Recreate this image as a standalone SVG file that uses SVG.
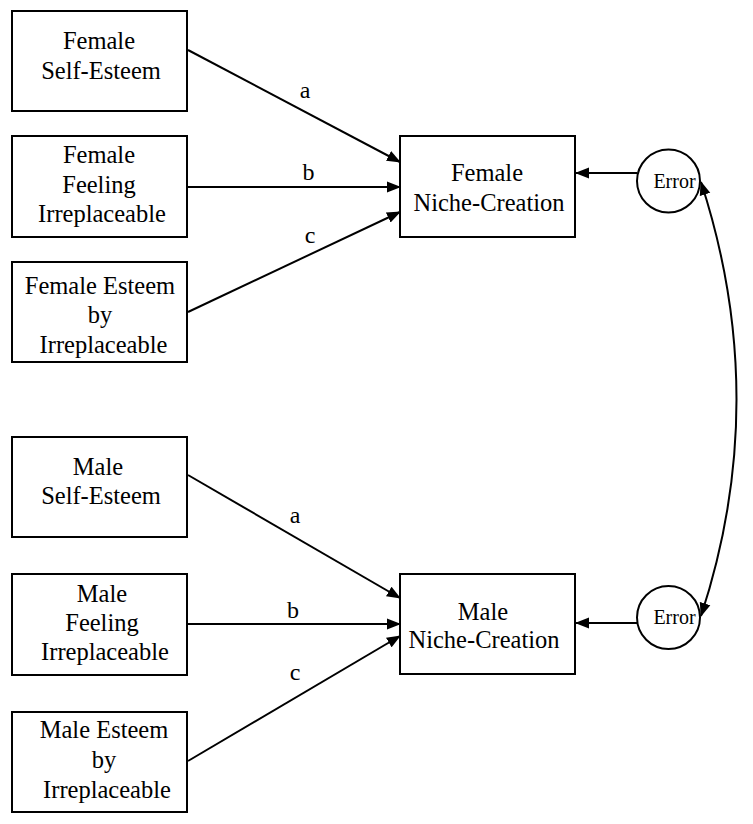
<svg xmlns="http://www.w3.org/2000/svg" width="753" height="824" viewBox="0 0 753 824">
<style>
text{font-family:'Liberation Serif','Times New Roman',Times,serif;fill:#000;text-anchor:middle}
.box{fill:#fff;stroke:#000;stroke-width:2}
.circ{fill:#fff;stroke:#000;stroke-width:2}
.t{font-size:24.5px}
.e{font-size:20px}
.lbl{font-size:24px}
.c{fill:none;stroke:#000;stroke-width:2}
</style>
<defs>
<marker id="ah" markerUnits="userSpaceOnUse" markerWidth="14" markerHeight="12" refX="13" refY="5.5" orient="auto-start-reverse" viewBox="0 0 14 11">
<path d="M0,0 L14,5.5 L0,11 z" fill="#000"/>
</marker>
</defs>
<rect width="753" height="824" fill="#fff"/>
<g id="connectors">
<line class="c" x1="188" y1="50" x2="400" y2="162" marker-end="url(#ah)"/>
<line class="c" x1="188" y1="187" x2="400" y2="187" marker-end="url(#ah)"/>
<line class="c" x1="188" y1="312" x2="400" y2="212" marker-end="url(#ah)"/>
<line class="c" x1="637" y1="173" x2="576" y2="173" marker-end="url(#ah)"/>
<line class="c" x1="188" y1="475" x2="400" y2="598" marker-end="url(#ah)"/>
<line class="c" x1="188" y1="624" x2="400" y2="624" marker-end="url(#ah)"/>
<line class="c" x1="188" y1="761" x2="400" y2="636" marker-end="url(#ah)"/>
<line class="c" x1="637" y1="623" x2="576" y2="623" marker-end="url(#ah)"/>
<path class="c" d="M701,182 Q772,400 701,616" marker-start="url(#ah)" marker-end="url(#ah)"/>
<g font-family="Liberation Serif, Times New Roman, serif">
<text class="lbl" x="305" y="98">a</text>
<text class="lbl" x="308.5" y="180">b</text>
<text class="lbl" x="310" y="243">c</text>
<text class="lbl" x="295" y="523">a</text>
<text class="lbl" x="293" y="618">b</text>
<text class="lbl" x="295" y="680">c</text>
</g>
</g>
<g id="f_selfesteem" font-family="Liberation Serif, Times New Roman, serif">
<rect class="box" x="12" y="11" width="175" height="100"/>
<text class="t" x="99" y="49">Female</text>
<text class="t" x="101" y="79">Self-Esteem</text>
</g>
<g id="f_feeling" font-family="Liberation Serif, Times New Roman, serif">
<rect class="box" x="12" y="136" width="175" height="101"/>
<text class="t" x="99" y="163">Female</text>
<text class="t" x="99" y="193">Feeling</text>
<text class="t" x="102" y="222">Irreplaceable</text>
</g>
<g id="f_esteem_by" font-family="Liberation Serif, Times New Roman, serif">
<rect class="box" x="12" y="262" width="175" height="100"/>
<text class="t" x="100" y="294">Female Esteem</text>
<text class="t" x="100" y="323">by</text>
<text class="t" x="103.5" y="353">Irreplaceable</text>
</g>
<g id="f_niche" font-family="Liberation Serif, Times New Roman, serif">
<rect class="box" x="400" y="136" width="175" height="101"/>
<text class="t" x="487" y="181">Female</text>
<text class="t" x="489" y="211">Niche-Creation</text>
</g>
<g id="f_error" font-family="Liberation Serif, Times New Roman, serif">
<circle class="circ" cx="668.5" cy="181" r="31.5"/>
<text class="e" x="674.5" y="188">Error</text>
</g>
<g id="m_selfesteem" font-family="Liberation Serif, Times New Roman, serif">
<rect class="box" x="12" y="437" width="175" height="100"/>
<text class="t" x="98" y="475">Male</text>
<text class="t" x="101" y="504">Self-Esteem</text>
</g>
<g id="m_feeling" font-family="Liberation Serif, Times New Roman, serif">
<rect class="box" x="12" y="574" width="175" height="101"/>
<text class="t" x="102" y="602">Male</text>
<text class="t" x="102" y="631">Feeling</text>
<text class="t" x="105" y="660">Irreplaceable</text>
</g>
<g id="m_esteem_by" font-family="Liberation Serif, Times New Roman, serif">
<rect class="box" x="12" y="712" width="175" height="100"/>
<text class="t" x="104" y="738">Male Esteem</text>
<text class="t" x="104" y="768">by</text>
<text class="t" x="107" y="798">Irreplaceable</text>
</g>
<g id="m_niche" font-family="Liberation Serif, Times New Roman, serif">
<rect class="box" x="400" y="574" width="175" height="100"/>
<text class="t" x="483" y="620">Male</text>
<text class="t" x="484" y="648">Niche-Creation</text>
</g>
<g id="m_error" font-family="Liberation Serif, Times New Roman, serif">
<circle class="circ" cx="668.5" cy="617.5" r="31.5"/>
<text class="e" x="674.5" y="624">Error</text>
</g>
</svg>
